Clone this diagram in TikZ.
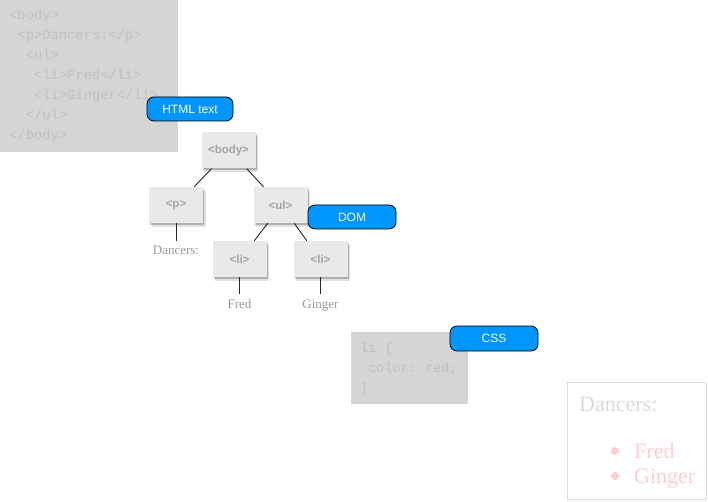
\documentclass[tikz,border=0pt]{standalone}
\usepackage{fontspec}
\setmainfont{Liberation Serif}
\setsansfont{Liberation Sans}
\setmonofont{Liberation Mono}
\usepackage{tikz}
\usetikzlibrary{positioning, shadows}
\definecolor{codefill}{HTML}{D5D5D5}
\definecolor{codeink}{HTML}{C0C0C0}
\definecolor{tagfill}{HTML}{E9E9E9}
\definecolor{tagink}{HTML}{A3A3A3}
\definecolor{leafink}{HTML}{9A9A9A}
\definecolor{calloutfill}{HTML}{0096FF}
\definecolor{pageink}{HTML}{DADADA}
\definecolor{pageline}{HTML}{DDDDDD}
\definecolor{redink}{HTML}{FFCDCD}
\tikzset{
  codebox/.style={fill=codefill, draw=none},
  codeline/.style={anchor=base west, inner sep=0pt, text=codeink, font=\ttfamily\fontsize{13.8}{16}\selectfont},
  tag/.style={fill=tagfill, draw=none, minimum width=54pt, minimum height=36pt, inner sep=0pt, text=tagink,
    font=\sffamily\bfseries\fontsize{11.5}{13}\selectfont,
    drop shadow={shadow xshift=2.5pt, shadow yshift=-4pt, fill=black, opacity=0.12},
    drop shadow={shadow xshift=1.2pt, shadow yshift=-2pt, fill=black, opacity=0.22}},
  leaf/.style={anchor=north, inner sep=5pt, text=leafink, font=\fontsize{13}{15}\selectfont},
  link/.style={draw=black!85, line width=0.9pt},
  callout/.style={draw=black, line width=0.8pt, fill=calloutfill, rounded corners=7pt, minimum width=86pt,
    minimum height=24pt, inner sep=0pt, text=white, font=\sffamily\fontsize{12}{14}\selectfont},
  pagetext/.style={anchor=base west, inner sep=0pt, font=\fontsize{22}{26}\selectfont},
  bullet/.style={circle, fill=redink, draw=none, minimum size=8pt, inner sep=0pt},
}
\begin{document}
\begin{tikzpicture}[x=1pt, y=-1pt]
  \useasboundingbox (0,0) rectangle (708,502);
  % html source
  \fill[codebox] (0,0) rectangle (178,152);
  \foreach \ind/\txt [count=\n] in {0/{<body>}, 1/{<p>Dancers:</p>}, 2/{<ul>}, 3/{<li>Fred</li>},
      3/{<li>Ginger</li>}, 2/{</ul>}, 0/{</body>}}
    \node[codeline] (html\n) at (9+\ind*8.3, 20*\n) {\txt};
  \node[callout] (htmlnote) at (190,109) {HTML text};
  % dom tree
  \node[tag] (body) at (228.5,150.5) {<body>};
  \node[tag] (p) at (176,205) {<p>};
  \node[tag] (ul) at (280.5,205) {<ul>};
  \node[tag] (li1) at (239.5,259) {<li>};
  \node[tag] (li2) at (320.5,259) {<li>};
  \draw[link] (body.-133) -- (p.45);
  \draw[link] (body.-45) -- (ul.133);
  \draw[link] (ul.-125) -- (li1.51);
  \draw[link] (ul.-53) -- (li2.127);
  \node[leaf, below=18pt of p] (dancers) {Dancers:};
  \node[leaf, below=17pt of li1] (fred) {Fred};
  \node[leaf, below=17pt of li2] (ginger) {Ginger};
  \draw[link] (p.south) -- (dancers.north);
  \draw[link] (li1.south) -- (fred.north);
  \draw[link] (li2.south) -- (ginger.north);
  \node[callout, minimum width=88pt] (domnote) at (352,217) {DOM};
  % css source
  \fill[codebox] (351,332) rectangle (468,404);
  \foreach \ind/\txt [count=\n] in {0/{li \{}, 1/{color: red;}, 0/{\}}}
    \node[codeline, font=\ttfamily\fontsize{13.5}{16}\selectfont] (css\n) at (360+\ind*8.1, 332+20*\n) {\txt};
  \node[callout, minimum width=88pt, minimum height=25pt] (cssnote) at (494,338.5) {CSS};
  % rendered page
  \draw[pageline, line width=0.8pt] (567.5,382.5) rectangle (706,499);
  \node[pagetext, text=pageink] (title) at (579,411) {Dancers:};
  \node[bullet] (dot1) at (615,451) {};
  \node[bullet] (dot2) at (615,476) {};
  \node[pagetext, text=redink] (item1) at (634,458) {Fred};
  \node[pagetext, text=redink] (item2) at (634,483) {Ginger};
\end{tikzpicture}
\end{document}
